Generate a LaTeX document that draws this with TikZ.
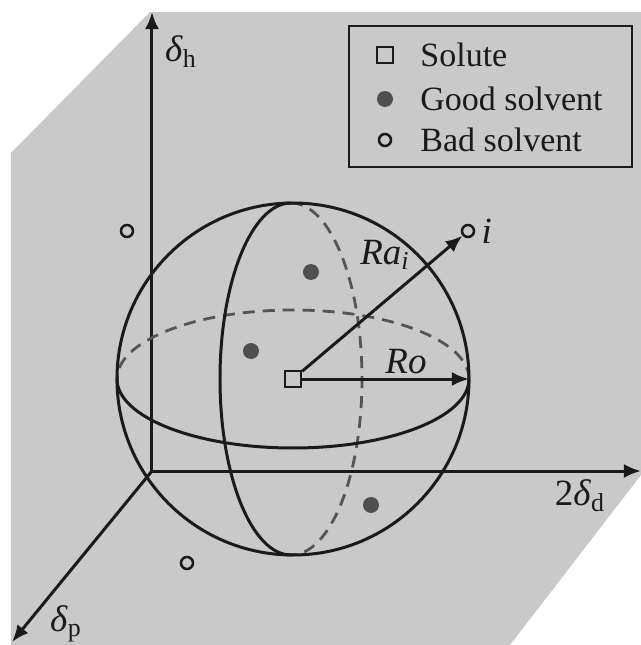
\documentclass[tikz,border=0pt]{standalone}
\usepackage{fontspec}
\setmainfont{Liberation Serif}
\usetikzlibrary{arrows.meta,positioning,calc}
\definecolor{bggray}{HTML}{C9C9C9}
\definecolor{dotgray}{HTML}{4F4F4F}
\definecolor{ink}{HTML}{1A1A1A}
\definecolor{dashgray}{HTML}{555555}

\begin{document}
\begin{tikzpicture}[x=0.5pt,y=0.5pt,>={Latex[length=8.5pt,width=7pt]},
 every node/.style={font=\fontsize{17}{20}\selectfont,text=ink},
 axis/.style={->,line width=1.5pt,color=ink},
 wire/.style={line width=1.5pt,color=ink},
 hidden/.style={line width=1.4pt,color=dashgray,dash pattern=on 6pt off 4pt},
 good/.style={circle,fill=dotgray,inner sep=0pt,minimum size=8pt},
 bad/.style={circle,draw=ink,line width=1.25pt,inner sep=0pt,minimum size=6pt},
 solute/.style={rectangle,draw=ink,line width=1.25pt,inner sep=0pt,minimum size=8pt},
 keytext/.style={anchor=west,inner sep=0pt},
 lbl/.style={font=\fontsize{18.5}{22}\selectfont}]
 \useasboundingbox (0,0) rectangle (641,645);
 \fill[bggray] (150,633)--(641,633)--(641,170)--(510,0)--(11,0)--(11,492)--cycle;
 % axes
 \coordinate (O) at (152,174);
 \coordinate (H) at (152,633);
 \coordinate (D) at (641,174);
 \coordinate (P) at (12,3);
 \foreach \t in {H,D,P} \draw[axis] (O)--(\t);
 \node[lbl] (lh) at (181,593) {\textit{δ}\textsubscript{h}};
 \node[lbl] (ld) at (580,149) {2\textit{δ}\textsubscript{d}};
 \node[lbl] (lp) at (66,21) {\textit{δ}\textsubscript{p}};
 % sphere
 \node[solute] (sol) at (293,266) {};
 \coordinate (mer) at (291,266);
 \draw[hidden] ($(sol.center)+(176,0)$) arc[start angle=0,end angle=180,x radius=176,y radius=69];
 \draw[hidden] ($(mer)+(0,176)$) arc[start angle=90,end angle=-90,x radius=71,y radius=176];
 \draw[wire] (sol.center) circle[radius=176];
 \draw[wire] ($(sol.center)+(176,0)$) arc[start angle=0,end angle=-180,x radius=176,y radius=69];
 \draw[wire] ($(mer)+(0,176)$) arc[start angle=90,end angle=270,x radius=71,y radius=176];
 % solvents
 \node[good] (g1) at (311,373) {};
 \node[good] (g2) at (251,294) {};
 \node[good] (g3) at (371,140) {};
 \node[bad] (b1) at (127,414) {};
 \node[bad] (b2) at (187,82) {};
 \node[bad] (i) at (468,414) {};
 \node[lbl,right=3pt of i,inner sep=0pt] (li) {\textit{i}};
 % radii
 \coordinate (ro) at (469,266);
 \draw[wire,->] (sol)--(ro);
 \draw[wire,->] (sol)--(i);
 \node[lbl] (lRo) at (406,283) {\textit{Ro}};
 \node[lbl] (lRa) at (385,390) {\textit{Ra}\textsubscript{\textit{i}}};
 % legend
 \draw[line width=1pt,color=ink] (349,619) rectangle (632,478);
 \node[solute] (k1) at (385,590) {};
 \node[good] (k2) at (385,546) {};
 \node[bad] (k3) at (385,505) {};
 \node[keytext] (t1) at (420,590) {Solute};
 \node[keytext] (t2) at (420,546) {Good solvent};
 \node[keytext] (t3) at (420,505) {Bad solvent};
\end{tikzpicture}
\end{document}
